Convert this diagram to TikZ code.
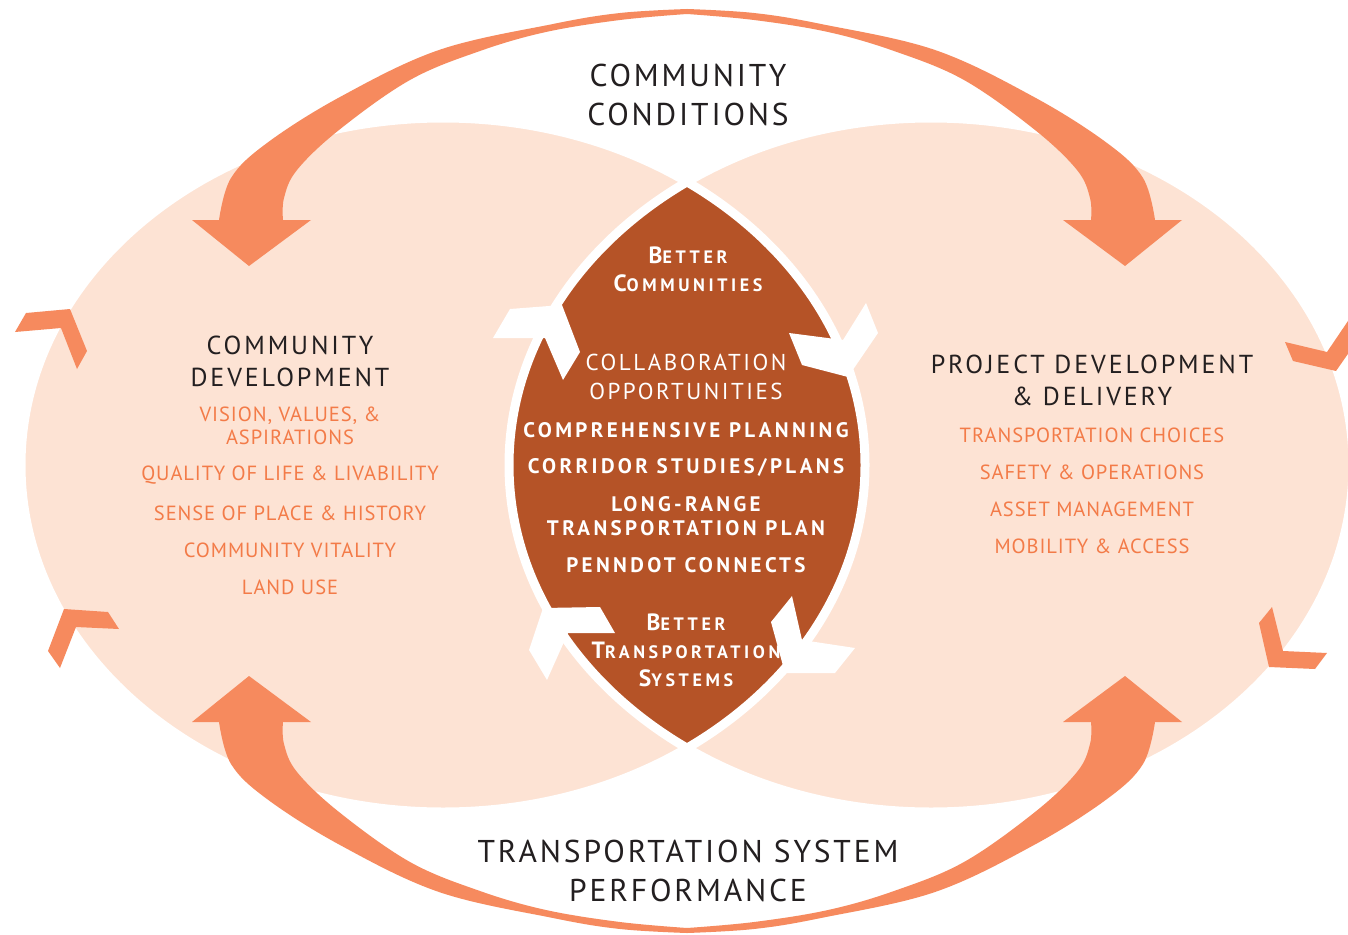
\documentclass[tikz,border=0pt]{standalone}
\usepackage{fontspec}
\setmainfont{PT Sans}
\newfontfamily\headfont[LetterSpace=9]{PT Sans}
\newfontfamily\sidefont[LetterSpace=11]{PT Sans}
\newfontfamily\listfont[LetterSpace=4.5]{PT Sans}
\newfontfamily\plainfont[LetterSpace=11]{PT Sans}
\newfontfamily\lensfont[LetterSpace=16]{PT Sans}
\newfontfamily\capsfont[LetterSpace=20]{PT Sans}

\definecolor{peach}{HTML}{FDE3D4}
\definecolor{rust}{HTML}{B55327}
\definecolor{arroworange}{HTML}{F68A5E}
\definecolor{listorange}{HTML}{F37B48}
\definecolor{inkgray}{HTML}{231F20}

\newcommand{\smallcap}[2]{{\fontsize{23.5}{28}\selectfont #1}{\fontsize{18}{28}\selectfont #2}}

\tikzset{
  headtext/.style={text=inkgray, align=center, inner sep=0pt,
    font=\headfont\fontsize{31.5}{39}\selectfont},
  sidehead/.style={text=inkgray, align=center, inner sep=0pt,
    font=\sidefont\fontsize{26}{32}\selectfont},
  listitem/.style={text=listorange, align=center, inner sep=0pt,
    font=\listfont\fontsize{20.5}{23}\selectfont},
  lensplain/.style={text=white, align=center, inner sep=0pt,
    font=\plainfont\fontsize{23}{29}\selectfont},
  lensbold/.style={text=white, align=center, inner sep=0pt,
    font=\lensfont\bfseries\fontsize{21}{24}\selectfont},
  lenscaps/.style={text=white, align=center, inner sep=0pt,
    font=\capsfont\bfseries\fontsize{23.5}{28}\selectfont},
  sweeparrow/.style={fill=arroworange, insert path={
    plot[smooth, tension=0.6] coordinates {(687,9) (620,13) (553,24) (439,50)
      (340,97) (267,143) (231,178) (219,220)}
    -- (192,220) -- (249,266) -- (311,220) -- (283,220)
    -- plot[smooth, tension=0.6] coordinates {(283,220) (284,198) (297,170)
      (339,130) (410,80) (480,51) (546,32) (620,20) (687,14)} -- cycle}},
}

\begin{document}
\begin{tikzpicture}[x=1pt, y=-1pt]
  \useasboundingbox (0,0) rectangle (1348,934);
  \fill[white] (0,0) rectangle (1348,934);

  % Ellipses
  \fill[peach] (443,465) ellipse [x radius=422pt, y radius=347pt];
  \fill[peach] (931,465) ellipse [x radius=422pt, y radius=347pt];

  % Lens
  \begin{scope}
    \clip (443,465) ellipse [x radius=422pt, y radius=347pt];
    \fill[rust] (931,465) ellipse [x radius=422pt, y radius=347pt];
  \end{scope}
  \draw[white, line width=9pt] (443,465) ellipse [x radius=422pt, y radius=347pt];
  \draw[white, line width=9pt] (931,465) ellipse [x radius=422pt, y radius=347pt];

  % Sweeping arrows
  \fill[sweeparrow];
  \begin{scope}[shift={(1374,0)}, xscale=-1]
    \fill[sweeparrow];
  \end{scope}
  \begin{scope}[shift={(0,942)}, yscale=-1]
    \fill[sweeparrow];
  \end{scope}
  \begin{scope}[shift={(1374,942)}, scale=-1]
    \fill[sweeparrow];
  \end{scope}

  % Chevrons on the ellipses
  \fill[arroworange] (26,313) -- (70,309) -- (87,351) -- (77,369) -- (61,328) -- (15,332) -- cycle;
  \fill[arroworange] (64,609) -- (108,612) -- (119,629) -- (76,627) -- (60,668) -- (48,651) -- cycle;
  \fill[arroworange] (1285,342) -- (1327,352) -- (1350,318) -- (1366,328) -- (1336,371) -- (1293,361) -- cycle;
  \fill[arroworange] (1272,607) -- (1283,651) -- (1327,653) -- (1315,669) -- (1269,667) -- (1259,623) -- cycle;

  % Chevrons on the lens
  \fill[white] (493,338) -- (510,309) -- (562,305) -- (580,352) -- (563,380) -- (545,338) -- cycle;
  \fill[white] (789,333) -- (843,340) -- (866,303) -- (878,333) -- (848,377) -- (802,365) -- cycle;
  \fill[white] (792,596) -- (802,640) -- (855,648) -- (835,673) -- (785,673) -- (771,622) -- cycle;
  \fill[white] (543,608) -- (600,607) -- (615,633) -- (568,633) -- (547,680) -- (529,650) -- cycle;

  % Outer headings
  \node[headtext] (conditions) at (688,95) {COMMUNITY\\CONDITIONS};
  \node[headtext] (performance) at (688,871) {TRANSPORTATION SYSTEM\\PERFORMANCE};

  % Community development
  \node[sidehead] (commdev) at (290,361) {COMMUNITY\\DEVELOPMENT};
  \node[listitem] (vision) at (290,426) {VISION, VALUES, \&\\ASPIRATIONS};
  \node[listitem] (quality) at (290,475) {QUALITY OF LIFE \& LIVABILITY};
  \node[listitem] (sense) at (290,513) {SENSE OF PLACE \& HISTORY};
  \node[listitem] (vitality) at (290,550) {COMMUNITY VITALITY};
  \node[listitem] (landuse) at (290,587) {LAND USE};

  % Project development
  \node[sidehead] (projdev) at (1092,380) {PROJECT DEVELOPMENT\\\& DELIVERY};
  \node[listitem] (choices) at (1092,435) {TRANSPORTATION CHOICES};
  \node[listitem] (safety) at (1092,472) {SAFETY \& OPERATIONS};
  \node[listitem] (asset) at (1092,509) {ASSET MANAGEMENT};
  \node[listitem] (mobility) at (1092,546) {MOBILITY \& ACCESS};

  % Lens texts
  \node[lenscaps] (bettercomm) at (688,269) {\smallcap{B}{ETTER}\\\smallcap{C}{OMMUNITIES}};
  \node[lensplain] (collab) at (686,377) {COLLABORATION\\OPPORTUNITIES};
  \node[lensbold] (comprehensive) at (686,430) {COMPREHENSIVE PLANNING};
  \node[lensbold] (corridor) at (686,467) {CORRIDOR STUDIES/PLANS};
  \node[lensbold] (longrange) at (686,516) {LONG-RANGE\\TRANSPORTATION PLAN};
  \node[lensbold] (penndot) at (686,565) {PENNDOT CONNECTS};
  \node[lenscaps] (bettertrans) at (686,650) {\smallcap{B}{ETTER}\\\smallcap{T}{RANSPORTATION}\\\smallcap{S}{YSTEMS}};
\end{tikzpicture}
\end{document}
